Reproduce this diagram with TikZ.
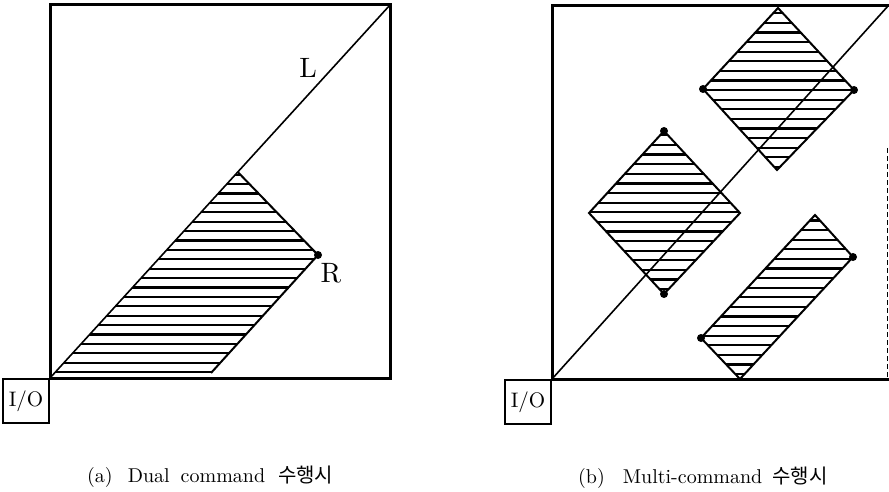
\documentclass[tikz,border=0pt]{standalone}
\usepackage{fontspec}
\setmainfont{lmroman10-regular}[Extension=.otf]
\newfontfamily\krfont{Noto Sans CJK KR}
\usetikzlibrary{calc}
\begin{document}
\begin{tikzpicture}[x=1pt,y=-1pt,
  frame/.style={line width=3pt, line cap=rect, line join=miter},
  diagline/.style={line width=1.6pt},
  hatchline/.style={line width=2.2pt},
  outline/.style={line width=2pt, line join=miter},
  dotv/.style={circle, fill=black, inner sep=0pt, minimum size=8pt},
  iobox/.style={draw, line width=2pt, minimum width=46pt, minimum height=44pt, inner sep=0pt, font=\fontsize{21}{21}\selectfont, anchor=north east},
  lbl/.style={font=\fontsize{28}{28}\selectfont, inner sep=0pt},
  captext/.style={font=\fontsize{20}{24}\selectfont, inner sep=0pt, anchor=base west}]
\useasboundingbox (0,0) rectangle (889,492);

% ---------------- panel (a) ----------------
\coordinate (a0) at (50,378);
\coordinate (a1) at (390,5);
\coordinate (aT) at ($(a0)!0.5523!(a1)$);
\coordinate (aR) at (318,255);
\coordinate (aB) at (211,373);

\begin{scope}
  \clip (a0) -- (aT) -- (aR) -- (aB) -- (48,374) -- cycle;
  \foreach \i in {0,...,21}
    \draw[hatchline] (40,{372-9.4*\i}) -- (340,{372-9.4*\i});
\end{scope}
\draw[outline] (aT) -- (aR) -- (aB);
\draw[frame] (a0) rectangle (a1);
\draw[diagline] (a0) -- (a1);
\node[dotv] (dR) at (aR) {};
\node[lbl] (labL) at (308,68) {L};
\node[lbl] (labR) at (331,273) {R};
\node[iobox] (ioa) at (a0) {I/O};
\node[captext] (capa) at (87,482) {(a)\hspace{15pt}Dual\hspace{11pt}command\hspace{13pt}{\krfont 수행시}};

% ---------------- panel (b) ----------------
\coordinate (b0) at (552,379);
\coordinate (b1) at (888,6);

% upper diamond
\coordinate (uT) at (778,8);
\coordinate (uL) at (703,89);
\coordinate (uR) at (854,90);
\coordinate (uB) at (777,170);
% middle diamond
\coordinate (mT) at (664,131);
\coordinate (mL) at (589,213);
\coordinate (mR) at (740,213);
\coordinate (mB) at (664,294);
% lower rectangle
\coordinate (rT) at (815,215);
\coordinate (rR) at (853,257);
\coordinate (rB) at (740,379);
\coordinate (rL) at (701,338);

\begin{scope}
  \clip (uT) -- (uR) -- (uB) -- (uL) -- cycle;
  \foreach \i in {0,...,16}
    \draw[hatchline] (690,{167-9.6*\i}) -- (870,{167-9.6*\i});
\end{scope}
\begin{scope}
  \clip (mT) -- (mR) -- (mB) -- (mL) -- cycle;
  \foreach \i in {0,...,16}
    \draw[hatchline] (580,{289-9.6*\i}) -- (750,{289-9.6*\i});
\end{scope}
\begin{scope}
  \clip (rT) -- (rR) -- (rB) -- (rL) -- cycle;
  \foreach \i in {0,...,16}
    \draw[hatchline] (690,{374-9.6*\i}) -- (860,{374-9.6*\i});
\end{scope}

\draw[outline] (uT) -- (uR) -- (uB) -- (uL) -- cycle;
\draw[outline] (mT) -- (mR) -- (mB) -- (mL) -- cycle;
\draw[outline] (rT) -- (rR) -- (rB) -- (rL) -- cycle;

\draw[frame] (888,6) -- (552,6) -- (b0) -- (888,379);
\draw[line width=0.8pt, dash pattern=on 5pt off 3pt] (887,148) -- (887,379);
\draw[diagline] (b0) -- (b1);

\node[dotv] (duL) at (uL) {};
\node[dotv] (duR) at (uR) {};
\node[dotv] (dmT) at (mT) {};
\node[dotv] (dmB) at (mB) {};
\node[dotv] (drR) at (rR) {};
\node[dotv] (drL) at (rL) {};

\node[iobox] (iob) at (b0) {I/O};
\node[captext] (capb) at (578,483) {(b)\hspace{18pt}Multi-command\hspace{10pt}{\krfont 수행시}};
\end{tikzpicture}
\end{document}
